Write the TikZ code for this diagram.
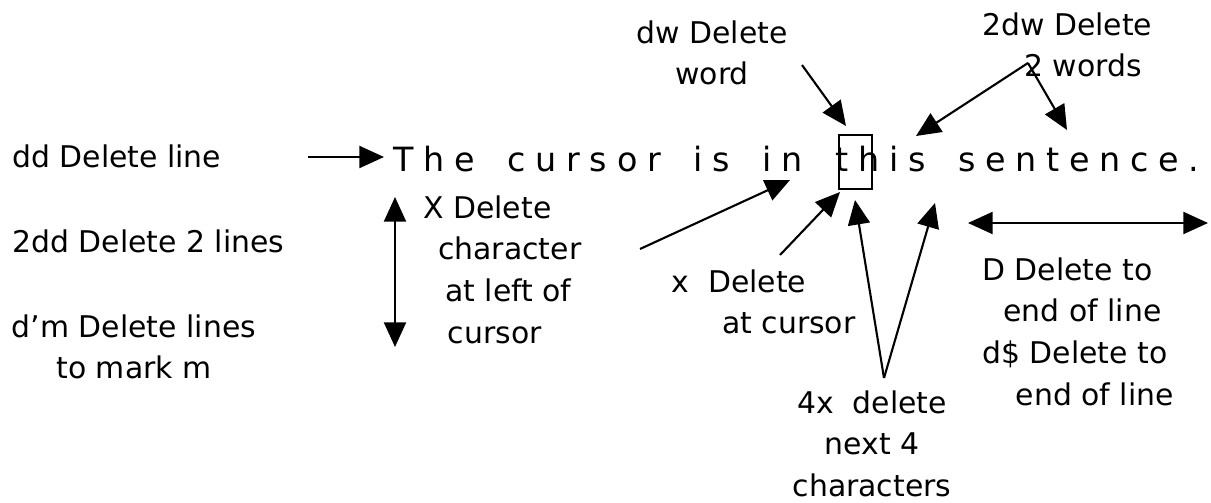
\documentclass[tikz,border=0pt]{standalone}
\usepackage{fontspec}
\setmainfont{DejaVu Sans}
\newfontfamily\sentfont[LetterSpace=29]{DejaVu Sans}
\newcommand{\wgap}{\hspace{18.7pt}}
\usetikzlibrary{arrows.meta}
\tikzset{
	lbl/.style={inner sep=0pt, font=\fontsize{17}{23.8}\selectfont, align=left, anchor=north west},
	sentence/.style={inner sep=0pt, anchor=base west, font=\sentfont\fontsize{19}{23}\selectfont},
	arr/.style={-{Triangle[length=14pt,width=12.5pt]}, line width=1.2pt},
	dbl/.style={{Triangle[length=14pt,width=12.5pt]}-{Triangle[length=14pt,width=12.5pt]}, line width=1.2pt},
	curbox/.style={line width=1pt}
}

\begin{document}
\begin{tikzpicture}[x=0.02cm, y=-0.02cm]
  \useasboundingbox (0,0) rectangle (1211,503);

  \node[lbl] (dd) at (12,144) {dd Delete line};
  \node[lbl] (twodd) at (12,229) {2dd Delete 2 lines};
  \node[lbl, align=center, anchor=north] (dm) at (134,314) {d'm Delete lines\\to mark m};

  \node[sentence] (sent) at (393,172) {The\wgap cursor\wgap is\wgap in\wgap this\wgap sentence.};
  \draw[curbox] (839,135) rectangle (872,189);

  \node[lbl, align=center, anchor=north] (dw) at (712,20) {dw Delete\\word};
  \node[lbl] (twodw) at (982,12) {2dw Delete\\\hspace*{24pt}2 words};
  \node[lbl] (bigx) at (423,195) {X Delete\\\hspace*{8.5pt}character\\\hspace*{12.5pt}at left of\\\hspace*{14pt}cursor};
  \node[lbl] (smallx) at (671,269) {x\ \ Delete\\\hspace*{29pt}at cursor};
  \node[lbl, align=center, anchor=north] (fourx) at (872,390) {4x\ \ delete\\next 4\\characters};
  \node[lbl] (dend) at (982,257) {D Delete to\\\hspace*{12pt}end of line\\d\$ Delete to\\\hspace*{19pt}end of line};

  \coordinate (ddtail) at (308,157);
  \coordinate (ddtip) at (384,157);
  \coordinate (lntop) at (395,197);
  \coordinate (lnbot) at (395,347);
  \coordinate (bigxtail) at (640,249);
  \coordinate (bigxtip) at (790,180);
  \coordinate (smallxtail) at (780,255);
  \coordinate (smallxtip) at (840,192);
  \coordinate (dwtail) at (802,65);
  \coordinate (dwtip) at (846,126);
  \coordinate (twodwtail) at (1028,63);
  \coordinate (twodwtipa) at (916,136);
  \coordinate (twodwtipb) at (1067,130);
  \coordinate (fourxtail) at (884,378);
  \coordinate (fourxtipa) at (855,200);
  \coordinate (fourxtipb) at (935,203);
  \coordinate (eolleft) at (968,223);
  \coordinate (eolright) at (1208,223);

  \draw[arr] (ddtail) -- (ddtip);
  \draw[dbl] (lntop) -- (lnbot);
  \draw[arr] (bigxtail) -- (bigxtip);
  \draw[arr] (smallxtail) -- (smallxtip);
  \draw[arr] (dwtail) -- (dwtip);
  \draw[arr] (twodwtail) -- (twodwtipa);
  \draw[arr] (twodwtail) -- (twodwtipb);
  \draw[arr] (fourxtail) -- (fourxtipa);
  \draw[arr] (fourxtail) -- (fourxtipb);
  \draw[dbl] (eolleft) -- (eolright);
\end{tikzpicture}
\end{document}
